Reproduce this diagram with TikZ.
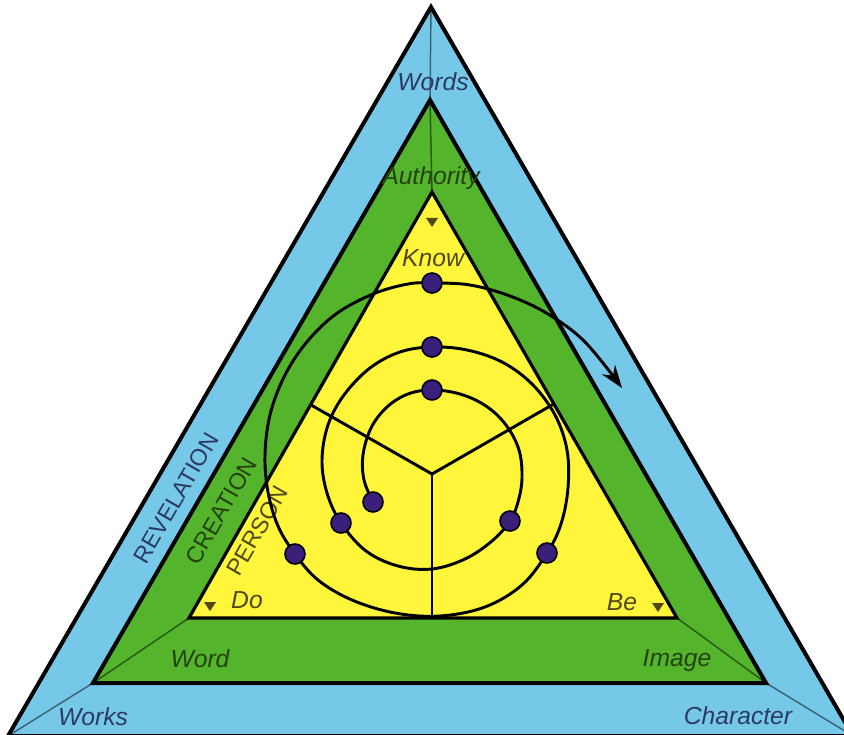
\documentclass[tikz,border=0pt]{standalone}
\usepackage{fontspec}
\setmainfont{Liberation Sans}
\usetikzlibrary{arrows.meta,calc}
\definecolor{bluefill}{RGB}{118,200,232}
\definecolor{greenfill}{RGB}{84,180,44}
\definecolor{yellowfill}{RGB}{255,246,60}
\definecolor{dotfill}{RGB}{58,32,122}
\definecolor{bluetext}{RGB}{44,58,100}
\definecolor{greentext}{RGB}{36,66,16}
\definecolor{yellowtext}{RGB}{80,72,16}
\begin{document}
\begin{tikzpicture}[x=0.75pt,y=-0.75pt,
  border/.style={line width=3pt,line join=miter,draw=black},
  innerborder/.style={line width=2.4pt,line join=miter,draw=black},
  cornerline/.style={draw=black,opacity=0.5,line width=1.1pt},
  lbl/.style={font=\fontsize{18.5}{18.5}\selectfont\itshape,inner sep=0pt},
  caps/.style={font=\fontsize{17.5}{17.5}\selectfont,inner sep=0pt,rotate=60},
  spiralline/.style={draw=black,line width=2.2pt,line cap=round,line join=round},
  spoke/.style={draw=black,line width=2.2pt},
  dotnode/.style={circle,fill=dotfill,draw=black,line width=1.2pt,minimum size=15pt,inner sep=0pt},
  tick/.style={fill=yellowtext}]
\useasboundingbox (0,0) rectangle (844,735);
\clip (0,0) rectangle (844,735);
% corners
\coordinate (OA) at (431,7);
\coordinate (OL) at (8,736);
\coordinate (OR) at (853,736);
\coordinate (GA) at (430,100);
\coordinate (GL) at (93,683);
\coordinate (GR) at (766,683);
\coordinate (YA) at (432,192);
\coordinate (YL) at (189,618);
\coordinate (YR) at (677,618);
% fills
\fill[bluefill] (OA) -- (OL) -- (OR) -- cycle;
\fill[greenfill] (GA) -- (GL) -- (GR) -- cycle;
\fill[yellowfill] (YA) -- (YL) -- (YR) -- cycle;
% corner lines
\draw[cornerline] (OA) -- (GA) -- (YA);
\draw[cornerline] (OL) -- (GL) -- (YL);
\draw[cornerline] (OR) -- (GR) -- (YR);
% borders
\draw[border] (OA) -- (OL) -- (OR) -- cycle;
\draw[border] (GA) -- (GL) -- (GR) -- cycle;
\draw[innerborder] (YA) -- (YL) -- (YR) -- cycle;
% small markers
\fill[tick] (426,218) -- (438,218) -- (432,227) -- cycle;
\fill[tick] (204,602) -- (216,602) -- (210,611) -- cycle;
\fill[tick] (652,603) -- (664,603) -- (658,612) -- cycle;
% labels
\node[lbl,text=bluetext] (words) at (433,82) {Words};
\node[lbl,text=greentext] (authority) at (431,178) {Authority};
\node[lbl,text=yellowtext] (know) at (433,258) {Know};
\node[lbl,text=bluetext] (works) at (93,717) {Works};
\node[lbl,text=bluetext] (character) at (738,716) {Character};
\node[lbl,text=greentext] (word) at (200,659) {Word};
\node[lbl,text=greentext] (image) at (677,661) {Image};
\node[lbl,text=yellowtext] (do) at (247,600) {Do};
\node[lbl,text=yellowtext] (be) at (622,602) {Be};
\node[caps,text=bluetext] (revelation) at (176,498) {REVELATION};
\node[caps,text=greentext] (creation) at (221,511) {CREATION};
\node[caps,text=yellowtext] (person) at (257,531) {PERSON};
% spokes
\coordinate (C) at (432,474);
\coordinate (SL) at ($(YA)!(C)!(YL)$);
\coordinate (SR) at ($(YA)!(C)!(YR)$);
\coordinate (SB) at ($(YL)!(C)!(YR)$);
\draw[spoke] (SL) -- (C) -- (SR);
\draw[spoke] (C) -- (SB);
% dot positions
\coordinate (p1) at (373,502);
\coordinate (p2) at (432,390);
\coordinate (p3) at (510,521);
\coordinate (p4) at (341,523);
\coordinate (p5) at (432,347);
\coordinate (p6) at (547,553);
\coordinate (p7) at (295,554);
\coordinate (p8) at (432,283);
\coordinate (tip) at (622,388);
% spiral
\draw[spiralline,-{Stealth[length=17pt,width=12pt]}] plot[smooth,tension=0.6] coordinates {
 (p1) (364,480) (363,455) (371,428) (387,407) (408,394) (p2)
 (460,394) (486,406) (506,425) (519,450) (522,478) (518,502) (p3)
 (492,541) (465,559) (432,569) (398,566) (366,551) (p4)
 (327,493) (322,460) (328,425) (344,395) (370,368) (400,352) (p5)
 (467,350) (502,362) (532,384) (555,415) (567,450) (568,488) (561,524) (p6)
 (522,585) (485,607) (440,616) (395,613) (352,600) (318,580) (p7)
 (278,526) (268,492) (265,455) (270,415) (284,377) (306,343) (336,314) (373,294) (408,284) (p8)
 (470,285) (510,296) (548,314) (585,342) (tip)};
% dots
\foreach \i in {1,...,8} {\node[dotnode] (d\i) at (p\i) {};}
\end{tikzpicture}
\end{document}
